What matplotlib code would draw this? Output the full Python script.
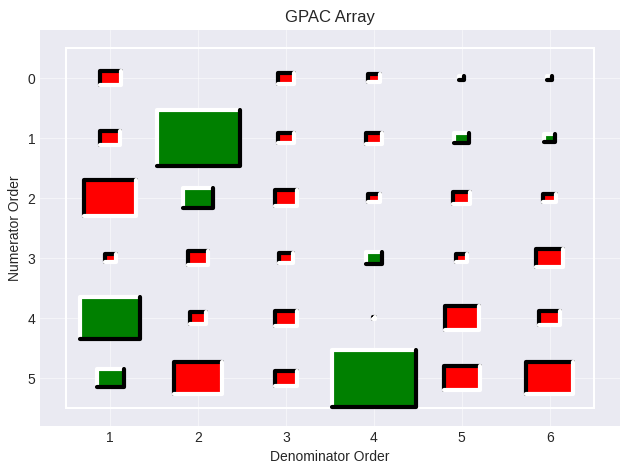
import numpy as np
import matplotlib
matplotlib.use("Agg")
import matplotlib.pyplot as plt
from matplotlib.patches import Rectangle

# GPAC values (signed box size, fraction of a cell); nan = not drawn
numerator_orders = [0, 1, 2, 3, 4, 5]
denominator_orders = [1, 2, 3, 4, 5, 6]
row0 = [-0.235, np.nan, -0.185, -0.145, 0.06, 0.06]
row1 = [-0.23, 0.945, -0.175, -0.185, 0.17, 0.12]
row2 = [-0.59, 0.34, -0.26, -0.13, -0.195, -0.14]
row3 = [-0.13, -0.23, -0.17, 0.19, -0.125, -0.315]
row4 = [0.685, -0.185, -0.25, -0.03, -0.385, -0.235]
row5 = [0.31, -0.54, -0.25, 0.95, -0.41, -0.54]
gpac = np.array([row0, row1, row2, row3, row4, row5])

plt.style.use("seaborn-v0_8-darkgrid")
plt.rcParams["font.sans-serif"] = ["Liberation Sans", "Arial", "DejaVu Sans"]

fig, ax = plt.subplots(figsize=(6.3, 4.7), dpi=100)
fig.subplots_adjust(left=0.0635, right=0.984, bottom=0.0936, top=0.936)

# white frame around the table
ax.add_patch(Rectangle((denominator_orders[0] - 0.5, numerator_orders[0] - 0.5),
                       len(denominator_orders), len(numerator_orders),
                       fill=False, edgecolor="white", lw=1.5, zorder=1))

lw = 3
for i, y in enumerate(numerator_orders):
    for j, x in enumerate(denominator_orders):
        v = gpac[i, j]
        if np.isnan(v):
            continue
        s = abs(v)
        h = s / 2
        if v < 0:
            fill, tl, br = "red", "black", "white"
        else:
            fill, tl, br = "green", "white", "black"
        ax.add_patch(Rectangle((x - h, y - h), s, s, facecolor=fill,
                               edgecolor="none", zorder=2))
        # top/left edge then bottom/right edge (bevel look)
        ax.plot([x - h, x - h, x + h], [y + h, y - h, y - h], color=tl, lw=lw,
                solid_capstyle="round", solid_joinstyle="round", zorder=3)
        ax.plot([x + h, x + h, x - h], [y - h, y + h, y + h], color=br, lw=lw,
                solid_capstyle="round", solid_joinstyle="round", zorder=3)

ax.set_xlim(0.2, 6.8)
ax.set_ylim(5.8, -0.8)
ax.set_xticks(denominator_orders)
ax.set_yticks(numerator_orders)
ax.grid(True, color="white", lw=0.8, alpha=0.5)
ax.set_xlabel("Denominator Order")
ax.set_ylabel("Numerator Order")
ax.set_title("GPAC Array")
plt.savefig("out.png")
